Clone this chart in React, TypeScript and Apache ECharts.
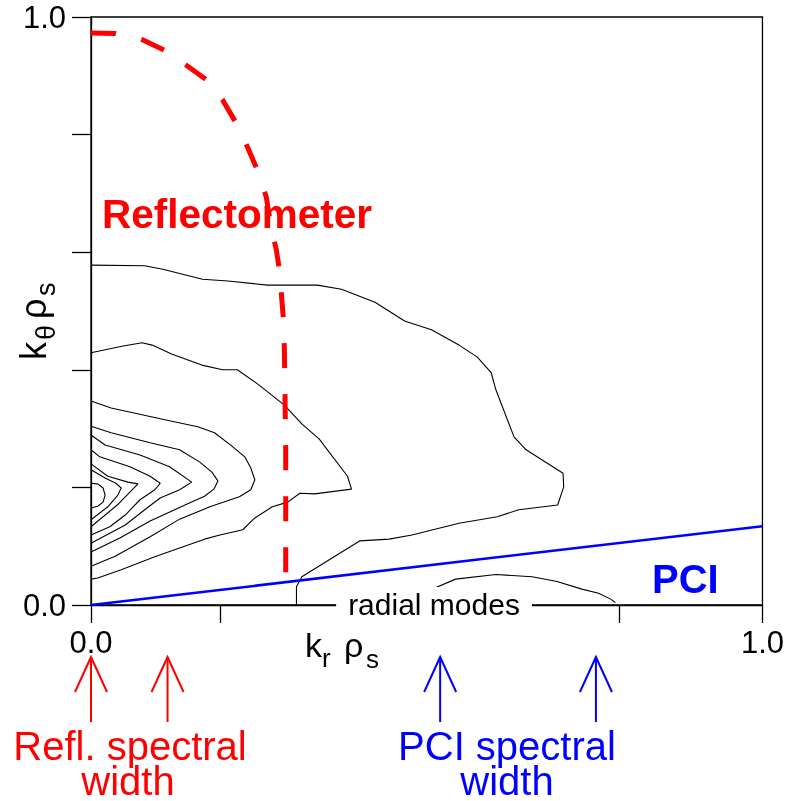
import { useEffect, useRef } from 'react';
import * as echarts from 'echarts';

const FONT = '"Liberation Sans", Arial, Helvetica, sans-serif';

// ---- axis ticks / labels ----
const xTickValues = [0, 0.193, 0.787, 1];
const xLabelValues = [0, 1];
const yLabelValues = [0, 1];

// ---- annotation arrows (k_r rho_s positions) ----
const reflArrowsX = [0, 0.114];
const pciArrowsX = [0.52, 0.752];

// ---- PCI limit line ----
const pciLine = [[0, 0], [1, 0.134]];

// ---- Reflectometer limit curve ----
const reflectometerCurve = [
  [0, 0.973], [0.036, 0.972], [0.075, 0.962], [0.11, 0.943], [0.142, 0.918],
  [0.172, 0.893], [0.196, 0.859], [0.216, 0.82], [0.233, 0.779], [0.248, 0.739],
  [0.261, 0.694], [0.269, 0.638], [0.276, 0.604], [0.281, 0.567], [0.284, 0.522],
  [0.287, 0.48], [0.288, 0.434], [0.289, 0.349], [0.29, 0.264], [0.29, 0.179], [0.29, 0.037],
];

// ---- spectral contours (outer to inner) ----
const contourA = [
  [0, 0.578], [0.08, 0.577], [0.107, 0.571], [0.135, 0.563], [0.166, 0.554], [0.204, 0.551],
  [0.263, 0.544], [0.337, 0.544], [0.373, 0.537], [0.423, 0.515], [0.467, 0.483], [0.507, 0.468],
  [0.548, 0.442], [0.575, 0.422], [0.596, 0.395], [0.603, 0.366], [0.63, 0.286], [0.648, 0.264],
  [0.703, 0.224], [0.704, 0.201], [0.695, 0.17], [0.637, 0.162], [0.605, 0.15], [0.548, 0.139],
  [0.478, 0.119], [0.444, 0.112], [0.4, 0.109], [0.314, 0.048], [0.306, 0.031], [0.306, 0],
];
const contourB = [
  [0, 0.429], [0.046, 0.44], [0.076, 0.446], [0.091, 0.442], [0.12, 0.427], [0.165, 0.408],
  [0.196, 0.4], [0.218, 0.4], [0.248, 0.376], [0.288, 0.34], [0.314, 0.308], [0.34, 0.282],
  [0.382, 0.219], [0.388, 0.197], [0.333, 0.189], [0.311, 0.19], [0.293, 0.175], [0.27, 0.167],
  [0.244, 0.148], [0.226, 0.128], [0.192, 0.119], [0.169, 0.112], [0.095, 0.082], [0.045, 0.06],
  [0.01, 0.046], [0, 0.044],
];
const contourC = [
  [0, 0.347], [0.03, 0.335], [0.11, 0.315], [0.159, 0.303], [0.184, 0.293], [0.208, 0.272],
  [0.229, 0.252], [0.238, 0.233], [0.244, 0.213], [0.238, 0.196], [0.221, 0.184], [0.177, 0.167],
  [0.132, 0.146], [0.088, 0.116], [0.036, 0.083], [0, 0.066],
];
const contourD = [
  [0, 0.304], [0.03, 0.293], [0.088, 0.276], [0.132, 0.264], [0.162, 0.243], [0.18, 0.226],
  [0.189, 0.211], [0.183, 0.197], [0.169, 0.185], [0.14, 0.17], [0.088, 0.143], [0.043, 0.114], [0, 0.09],
];
const contourE = [
  [0, 0.289], [0.021, 0.272], [0.073, 0.255], [0.117, 0.235], [0.15, 0.209], [0.132, 0.196],
  [0.103, 0.182], [0.08, 0.162], [0.051, 0.136], [0, 0.105],
];
const contourF = [
  [0, 0.264], [0.013, 0.252], [0.058, 0.235], [0.088, 0.219], [0.103, 0.207], [0.095, 0.196],
  [0.073, 0.179], [0.051, 0.153], [0.028, 0.133], [0, 0.119],
];
const contourG = [
  [0, 0.24], [0.025, 0.219], [0.055, 0.209], [0.07, 0.206], [0.058, 0.192], [0.039, 0.17], [0, 0.133],
];
const contourH = [
  [0, 0.23], [0.021, 0.216], [0.037, 0.207], [0.045, 0.199], [0.04, 0.187], [0.025, 0.167], [0, 0.145],
];
const contourI = [
  [0, 0.207], [0.01, 0.206], [0.018, 0.199], [0.021, 0.187], [0.018, 0.175], [0.01, 0.168], [0, 0.165],
];
// radial-mode contour near the k_r axis
const contourRadial = [
  [0.5, 0.018], [0.506, 0.026], [0.543, 0.044], [0.603, 0.052], [0.657, 0.048], [0.694, 0.04],
  [0.731, 0.027], [0.756, 0.02], [0.774, 0.01], [0.781, 0.004],
];

export default function App() {
  const ref = useRef<HTMLDivElement>(null);

  useEffect(() => {
    const chart = echarts.init(ref.current!, null, { renderer: 'svg' });
    const contours = [contourA, contourB, contourC, contourD, contourE, contourF, contourG, contourH, contourI, contourRadial];
    const series: any[] = contours.map((c) => ({
      type: 'line',
      data: c,
      symbol: 'none',
      silent: true,
      z: 2,
      lineStyle: { color: '#000', width: 1.1 },
    }));
    series.push({
      type: 'line', data: pciLine, symbol: 'none', silent: true, z: 3,
      lineStyle: { color: '#0000ff', width: 2.5 },
    });
    series.push({
      type: 'line', data: reflectometerCurve, symbol: 'none', silent: true, z: 4,
      lineStyle: { color: '#ff0000', width: 5, type: [25, 26], cap: 'butt' },
    });

    const axisLineStyle = { color: '#000', width: 1.3 };
    chart.setOption({
      animation: false,
      grid: {
        left: 91, top: 17, width: 673, height: 588,
        show: true, borderColor: '#000', borderWidth: 1.3, backgroundColor: 'transparent',
      },
      xAxis: {
        type: 'value', min: 0, max: 1,
        axisLine: { show: true, lineStyle: axisLineStyle },
        axisTick: { show: true, length: 18, customValues: xTickValues, lineStyle: axisLineStyle },
        axisLabel: {
          customValues: xLabelValues, formatter: (v: number) => v.toFixed(1),
          fontSize: 31, fontFamily: FONT, color: '#000', margin: 22,
        },
        splitLine: { show: false },
      },
      yAxis: {
        type: 'value', min: 0, max: 1, interval: 0.2,
        axisLine: { show: true, lineStyle: axisLineStyle },
        axisTick: { show: true, length: 19, lineStyle: axisLineStyle },
        axisLabel: {
          customValues: yLabelValues, formatter: (v: number) => v.toFixed(1),
          fontSize: 31, fontFamily: FONT, color: '#000', margin: 25,
        },
        splitLine: { show: false },
      },
      series,
    });

    const px = (v: number) => chart.convertToPixel({ xAxisIndex: 0 }, v) as number;
    const txt = (text: string, x: number, y: number, size: number, fill: string, align = 'left', weight = 'normal', extra: any = {}) => ({
      type: 'text', x, y, z: 100,
      style: { text, fill, font: `${weight} ${size}px ${FONT}`, textAlign: align, textVerticalAlign: 'middle', ...extra },
    });
    const arrow = (x: number, color: string) => [
      { type: 'line', z: 100, shape: { x1: x, y1: 657, x2: x, y2: 722 }, style: { stroke: color, lineWidth: 2 } },
      { type: 'polyline', z: 100, shape: { points: [[x - 16, 692], [x, 657], [x + 16, 692]] }, style: { stroke: color, lineWidth: 2, fill: null } },
    ];
    const tight = { lineHeight: 34 };

    const graphic: any[] = [
      txt('Reflectometer', 102, 214, 40.5, '#ff0000', 'left', 'bold'),
      txt('PCI', 652, 579, 40, '#0000ff', 'left', 'bold'),
      txt('radial modes', 434, 604, 30, '#000', 'center', 'normal', { backgroundColor: '#fff', padding: [1, 12, 3, 12] }),
      // x-axis name k_r rho_s
      txt('k', 305, 645, 34, '#000'),
      txt('r', 322, 658, 26, '#000'),
      txt('ρ', 344, 645, 34, '#000'),
      txt('s', 366, 659, 26, '#000'),
      // y-axis name k_theta rho_s (rotated)
      {
        type: 'group', x: 45, y: 360, rotation: Math.PI / 2, z: 100,
        children: [
          txt('k', 0, -12, 36, '#000'),
          txt('θ', 20, 1, 27, '#000'),
          txt('ρ', 41, -12, 36, '#000'),
          txt('s', 64, 1, 27, '#000'),
        ],
      },
      txt('Refl. spectral', 130, 746, 40, '#ff0000', 'center', 'normal', tight),
      txt('width', 128, 781, 40, '#ff0000', 'center', 'normal', tight),
      txt('PCI spectral', 507, 746, 40, '#0000ff', 'center', 'normal', tight),
      txt('width', 507, 781, 40, '#0000ff', 'center', 'normal', tight),
    ];
    reflArrowsX.forEach((v) => graphic.push(...arrow(px(v), '#ff0000')));
    pciArrowsX.forEach((v) => graphic.push(...arrow(px(v), '#0000ff')));
    chart.setOption({ graphic });

    return () => chart.dispose();
  }, []);

  return <div ref={ref} style={{ position: 'fixed', left: 0, top: 0, width: 787, height: 801 }} />;
}
